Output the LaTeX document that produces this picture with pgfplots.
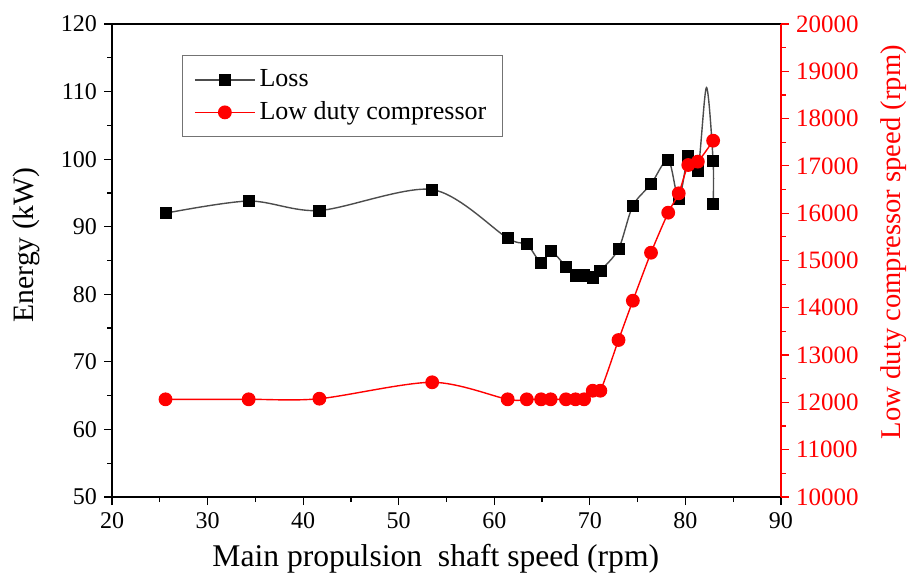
\documentclass[border=0pt]{standalone}
\usepackage{fontspec}
\setmainfont{Liberation Serif}
\usepackage{pgfplots}
\pgfplotsset{compat=1.18}
\begin{document}
\begin{tikzpicture}
\useasboundingbox (-56pt,-43pt) rectangle (398.5pt,248.5pt);
\begin{axis}[
  scale only axis, width=334.5pt, height=236.5pt,
  at={(0,0)}, anchor=south west,
  xmin=20, xmax=90, ymin=50, ymax=120,
  xtick={20,30,...,90}, ytick={50,60,...,120},
  minor x tick num=1, minor y tick num=1,
  tick align=outside, xtick pos=bottom, ytick pos=left,
  major tick length=4pt, minor tick length=2.5pt,
  tick style={black, line width=0.6pt},
  axis line style={line width=0.6pt},
  ticklabel style={font=\fontsize{12}{14}\selectfont},
  /pgf/number format/assume math mode=true,
  xlabel={Main propulsion\ \ shaft speed (rpm)},
  ylabel={Energy (kW)},
  every axis x label/.style={at={(axis description cs:0.484,-0.13)}, anchor=center, font=\fontsize{15.8}{18}\selectfont},
  every axis y label/.style={at={(axis description cs:-0.128,0.533)}, anchor=center, rotate=90, font=\fontsize{14.8}{17}\selectfont},
  legend style={at={(axis description cs:0.104,0.934)}, anchor=north west, draw=black!55, line width=0.6pt,
    font=\fontsize{13}{15}\selectfont, inner xsep=6pt, inner ysep=5pt, row sep=2pt},
  legend cell align=left,
  legend image code/.code={\draw[mark repeat=2,mark phase=2,#1] plot coordinates {(0pt,0pt) (15pt,0pt) (30pt,0pt)};},
]
% line only (includes visible overshoot vertex of the drawn curve)
\addplot[black!70, line width=0.7pt, smooth, forget plot] coordinates {
(25.6,92.0) (34.3,93.8) (41.7,92.4) (53.5,95.5) (61.4,88.3) (63.4,87.4) (64.9,84.7) (65.9,86.4)
(67.5,84.1) (68.5,82.8) (69.4,82.8) (70.3,82.5) (71.1,83.5) (73.0,86.7) (74.5,93.1) (76.4,96.3)
(78.2,99.9) (79.3,94.1) (80.3,100.4) (81.3,98.3) (82.2,110.6) (82.9,99.7) (82.9,93.4)};
\addplot[black, mark=square*, mark size=2.8pt, only marks, forget plot] coordinates {
(25.6,92.0) (34.3,93.8) (41.7,92.4) (53.5,95.5) (61.4,88.3) (63.4,87.4) (64.9,84.7) (65.9,86.4)
(67.5,84.1) (68.5,82.8) (69.4,82.8) (70.3,82.5) (71.1,83.5) (73.0,86.7) (74.5,93.1) (76.4,96.3)
(78.2,99.9) (79.3,94.1) (80.3,100.4) (81.3,98.3) (82.9,99.7) (82.9,93.4)};
\addlegendimage{black!70, line width=0.7pt, mark=square*, mark size=2.8pt, mark options={black, solid}}
\addlegendentry{Loss}
\addlegendimage{red, line width=0.7pt, mark=*, mark size=3.1pt, mark options={red}}
\addlegendentry{Low duty compressor}
\end{axis}
\begin{axis}[
  scale only axis, width=334.5pt, height=236.5pt,
  at={(0,0)}, anchor=south west,
  xmin=20, xmax=90, ymin=10000, ymax=20000,
  axis x line=none, axis y line*=right,
  y axis line style={red, line width=0.6pt, -},
  ytick={10000,11000,...,20000}, minor y tick num=1,
  tick align=outside, major tick length=4pt, minor tick length=2.5pt,
  ytick style={red, line width=0.6pt},
  yticklabel style={red, font=\fontsize{12.5}{14}\selectfont},
  scaled y ticks=false,
  /pgf/number format/set thousands separator={},
  /pgf/number format/assume math mode=true,
  ylabel={Low duty compressor speed (rpm)},
  every axis y label/.style={at={(axis description cs:1.169,0.539)}, anchor=center, rotate=90, red, font=\fontsize{14.3}{17}\selectfont},
]
\addplot[red, line width=0.7pt, smooth, mark=*, mark size=3.1pt, mark options={red}] coordinates {
(25.6,12065) (34.3,12065) (41.7,12078) (53.5,12425) (61.4,12065) (63.4,12065) (64.9,12065) (65.9,12065)
(67.5,12065) (68.5,12065) (69.4,12065) (70.3,12247) (71.1,12247) (73.0,13319) (74.5,14150) (76.4,15165)
(78.2,16011) (79.3,16420) (80.3,17019) (81.3,17090) (82.9,17533)};
\end{axis}
\end{tikzpicture}
\end{document}
